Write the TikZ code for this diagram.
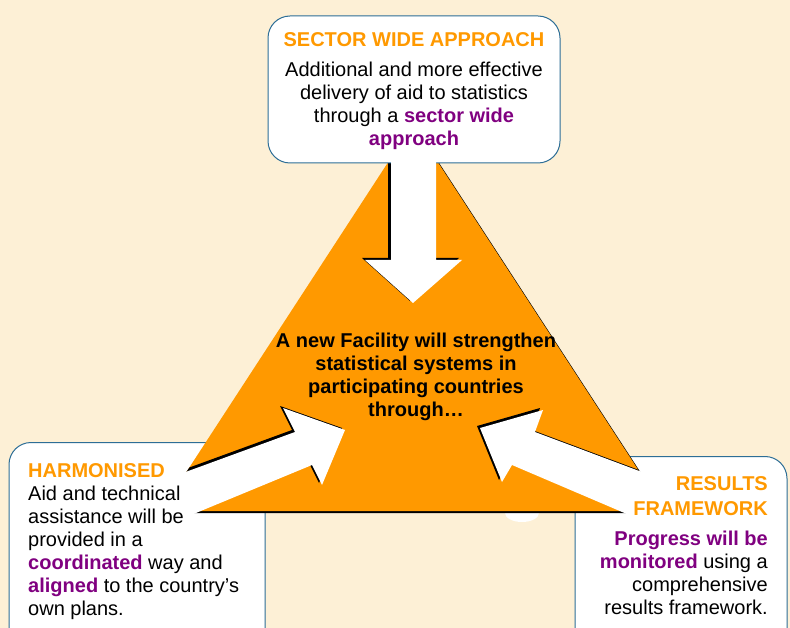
\documentclass[tikz,border=0pt]{standalone}
\usepackage{fontspec}
\setmainfont{Liberation Sans}

\definecolor{facorange}{RGB}{255,153,0}
\definecolor{facpurple}{RGB}{128,0,128}
\definecolor{boxblue}{RGB}{45,110,150}
\definecolor{paper}{RGB}{253,240,214}
\newcommand{\hl}[1]{\textbf{\color{facpurple}#1}}

\tikzset{
  toparrow/.style={insert path={(391,158) -- (391,260) -- (365,260) -- (413,303)
      -- (462,260) -- (436,260) -- (436,158) -- cycle}},
  leftarrow/.style={insert path={(150,485) -- (295,432) -- (283,408) -- (345,430)
      -- (322,485) -- (312,465) -- (150,532) -- cycle}},
  rightarrow/.style={insert path={(480,428) -- (543,410) -- (535,432) -- (690,490)
      -- (690,541) -- (512,465) -- (502,482) -- cycle}}
}

\begin{document}
\spaceskip=3.3pt plus 1pt
\begin{tikzpicture}[x=1pt,y=-1pt,
    box/.style={draw=boxblue, line width=1pt, fill=white, rounded corners=22pt},
    title/.style={font=\fontsize{20}{25}\selectfont\bfseries, text=facorange, inner sep=0pt},
    body/.style={font=\fontsize{20}{23}\selectfont, inner sep=0pt}]

  \useasboundingbox (0,0) rectangle (790,628);
  \clip (0,0) rectangle (790,628);
  \fill[paper] (0,0) rectangle (790,628);

  \begin{scope}[every node/.style={box}]
    \node[minimum width=256pt, minimum height=217pt] (harm) at (137,551) {};
    \node[minimum width=212pt, minimum height=203pt] (res) at (681,558) {};
  \end{scope}

  \coordinate (apex) at (413,124);
  \coordinate (bl) at (161,511);
  \coordinate (br) at (665,511);

  \fill[white] (522,513) ellipse (17 and 9);
  \fill[black] ([shift={(2,2)}]apex) -- ([shift={(2,2)}]br) -- ([shift={(2,2)}]bl) -- cycle;
  \fill[facorange] (apex) -- (br) -- (bl) -- cycle;

  \begin{scope}
    \clip (apex) -- (br) -- (bl) -- cycle;
    \fill[black, shift={(-3,-2)}, toparrow];
    \fill[black, shift={(-3,-2)}, leftarrow];
    \fill[black, shift={(-3,-2)}, rightarrow];
  \end{scope}

  \node[box, minimum width=292pt, minimum height=147pt] (swa) at (414,89.5) {};

  \fill[white, toparrow];
  \fill[white, leftarrow];
  \fill[white, rightarrow];

  % multi-line nodes sit on the baseline of their last line
  \node[title, anchor=base] (swatitle) at (414,47) {SECTOR WIDE APPROACH};
  \node[body, anchor=base, align=center] (swatext) at (414,146)
    {Additional and more effective\\ delivery of aid to statistics\\
     through a \hl{sector wide}\\ \hl{approach}};

  \node[title, anchor=base west] (harmtitle) at (28,477) {HARMONISED};
  \node[body, anchor=base west, align=left] (harmtext) at (28,615)
    {Aid and technical\\ assistance will be\\ provided in a\\
     \hl{coordinated} way and\\ \hl{aligned} to the country’s\\ own plans.};

  \node[title, anchor=base east, align=right] (restitle) at (768,515) {RESULTS\\ FRAMEWORK};
  \node[body, anchor=base east, align=right] (restext) at (768,614)
    {\hl{Progress will be}\\ \hl{monitored} using a\\ comprehensive\\ results framework.};

  \node[body, font=\fontsize{20}{23}\selectfont\bfseries, anchor=base, align=center] (facility) at (416,416)
    {A new Facility will strengthen\\ statistical systems in\\ participating countries\\ through…};

\end{tikzpicture}
\end{document}
